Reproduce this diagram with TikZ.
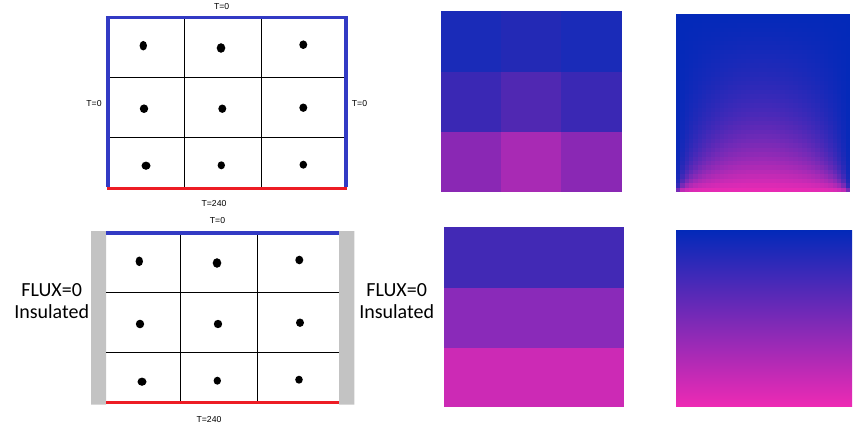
\documentclass[tikz,border=0pt]{standalone}
\usepackage{fontspec}
\setmainfont{Liberation Sans}
\newfontfamily\fluxfont{Carlito}
\usepackage{xcolor}
\usetikzlibrary{positioning,calc}
\definecolor{tblue}{RGB}{3,41,185}
\definecolor{tpink}{RGB}{238,42,180}
\definecolor{wallblue}{RGB}{50,58,196}
\definecolor{wallred}{RGB}{237,28,36}
\definecolor{insul}{RGB}{195,195,195}

\begin{document}
\begin{tikzpicture}[
  x=0.75pt, y=-0.75pt,
  bc/.style={font=\fontsize{6.5}{7}\selectfont,inner sep=0pt},
  flux/.style={font=\fluxfont\fontsize{15}{16.7}\selectfont,align=center,inner sep=0pt},
  cold/.style={draw=wallblue,line width=2.6pt},
  hot/.style={draw=wallred,line width=2.6pt},
  cv/.style={draw=black,line width=1pt},
  pt/.style={fill=black}
]
\useasboundingbox (0,0) rectangle (862,428);

% --- Dirichlet case (top left)
\draw[cv] (184.5,17.5) -- (184.5,188) (261.5,17.5) -- (261.5,188);
\draw[cv] (108,77.5) -- (346,77.5) (108,137.5) -- (346,137.5);
\draw[hot] (107,188.5) -- (347,188.5);
\draw[cold] (108,187) -- (108,17.5) -- (346,17.5) -- (346,186.5);
\foreach \x/\y/\rx/\ry in {143.3/45.7/3.7/4.8, 221/48/4.3/4.8, 303.3/44.7/4/4.3,
  144/108.7/4.2/4.3, 222.3/108.7/4/4.2, 303.3/107.7/4/4.2,
  146/165.7/4.5/4.1, 221.3/165.3/3.7/4, 303.3/164.7/3.8/4}
  \fill[pt] (\x,\y) ellipse[x radius=\rx,y radius=\ry];
\node[bc] (t1top) at (221.7,6.5) {T=0};
\node[bc] (t1left) at (94,104) {T=0};
\node[bc] (t1right) at (359.5,104) {T=0};
\node[bc] (t1bot) at (214,204) {T=240};

% --- insulated case (bottom left)
\fill[insul] (91,231) rectangle (106,404.5) (339,231) rectangle (354.3,404.5);
\draw[cv] (180.5,233) -- (180.5,402) (257.5,233) -- (257.5,402);
\draw[cv] (106,292.5) -- (339,292.5) (106,352.5) -- (339,352.5);
\draw[cold,line width=2.4pt] (106,233) -- (339,233);
\draw[hot,line width=2.4pt] (106,402.7) -- (339,402.7);
\foreach \x/\y/\rx/\ry in {139.3/261.3/3.7/4.8, 217/263/4.3/4.8, 299.3/260/4/4.3,
  140/324/4.2/4.3, 218/324/4.2/4.2, 300/322.7/4/4.2,
  142/381.7/4.5/4.1, 217.3/380.7/3.7/4, 299/379.7/3.8/4}
  \fill[pt] (\x,\y) ellipse[x radius=\rx,y radius=\ry];
\node[bc] (t2top) at (217.5,221) {T=0};
\node[bc] (t2bot) at (209,419.5) {T=240};
\node[flux] (fluxL) at (51.7,301) {FLUX=0\\Insulated};
\node[flux] (fluxR) at (396.7,301) {FLUX=0\\Insulated};

% --- coarse solution, Dirichlet
\foreach \row/\ya/\yb/\ca/\cb in {0/11/71.7/{26,43,184}/{35,41,181},
  1/71.7/132/{58,40,180}/{80,40,178},
  2/132/191.7/{138,40,180}/{168,42,180}}{
  \definecolor{cside}{RGB}{\ca}
  \definecolor{cmid}{RGB}{\cb}
  \fill[cside] (441,\ya) rectangle (501,\yb);
  \fill[cmid] (500.7,\ya) rectangle (561,\yb);
  \fill[cside] (560.7,\ya) rectangle (622,\yb);
}

% --- fine solution, Dirichlet
\begin{scope}
\clip (676,14) rectangle (850,191.7);
\foreach \i in {0,...,39}{
  \foreach \j in {0,...,39}{
    \pgfmathsetmacro\xc{(\i+0.5)/40}
    \pgfmathsetmacro\yc{(\j+0.5)/40}
    \pgfmathsetmacro\pct{max(0,min(100,100*(atan(sin(180*\xc)/sinh(pi*\yc))-atan(sin(180*\xc)/sinh(pi*(2-\yc))))/90))}
    \fill[tpink!\pct!tblue] ({676+\i*4.35},{191.7-(\j+1)*4.4425}) rectangle ++(4.7,4.8);
  }
}
\end{scope}

% --- coarse solution, insulated
\definecolor{band1}{RGB}{66,41,181}
\definecolor{band2}{RGB}{138,42,185}
\definecolor{band3}{RGB}{204,42,181}
\fill[band1] (444,227) rectangle (624,288.3);
\fill[band2] (444,288) rectangle (624,348.3);
\fill[band3] (444,348) rectangle (624,407.3);

% --- fine solution, insulated
\shade[top color=tblue,bottom color=tpink] (676,230.7) rectangle (852,406.7);
\end{tikzpicture}
\end{document}
